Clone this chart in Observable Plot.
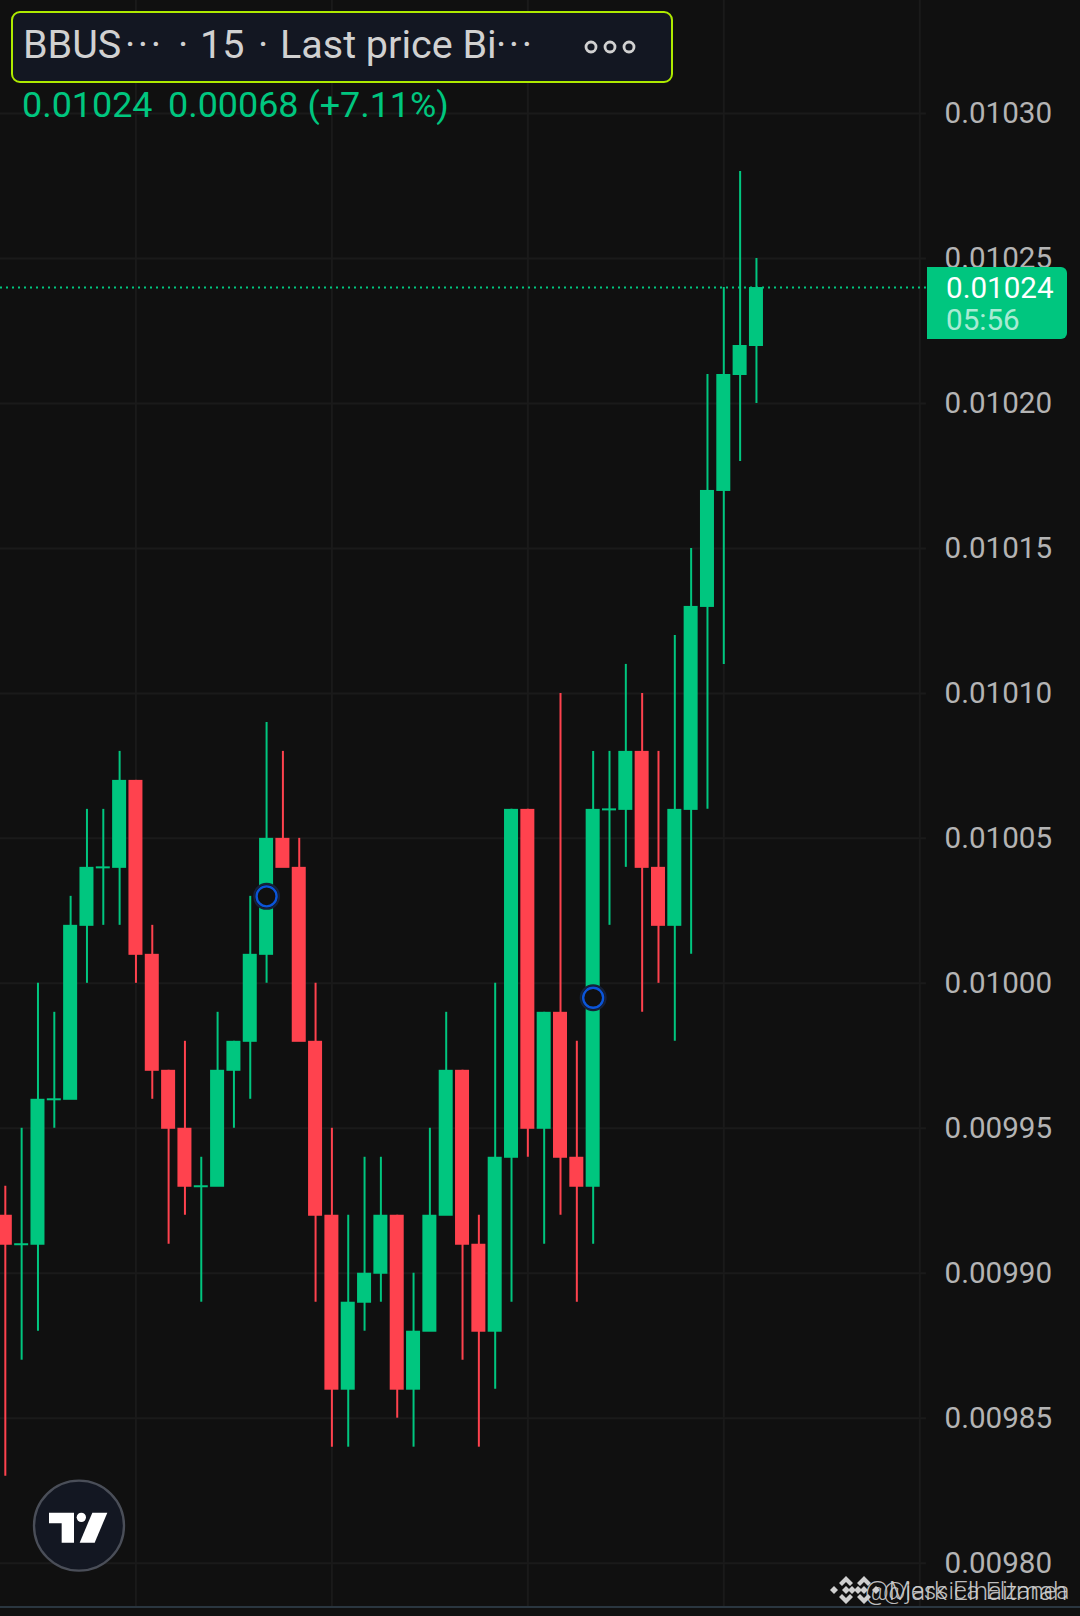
<!DOCTYPE html>
<html>
<head>
<meta charset="utf-8">
<script src="https://cdn.jsdelivr.net/npm/d3@7"></script>
<script src="https://cdn.jsdelivr.net/npm/@observablehq/plot@0.6"></script>
<style>
html,body{margin:0;padding:0;background:#101010;}
#page{position:relative;width:1080px;height:1616px;overflow:hidden;background:#101010;font-family:Roboto,sans-serif;}
#chart svg{display:block;}
.t{position:absolute;white-space:pre;line-height:40px;height:40px;}
.h{font-size:39.5px;color:#d1d1d1;top:25px;}
.d{letter-spacing:2.5px;}
.v{font-size:35.9px;color:#00c67f;top:85px;}
.wm{color:#cfcfcf;opacity:.9;top:1571px;font-weight:300;}
</style>
</head>
<body>
<div id="page">
  <div id="chart"></div>
  <div style="position:absolute;left:0;top:1606px;width:1080px;height:2px;background:#2a3640"></div>

  <div style="position:absolute;left:11px;top:11px;width:658px;height:68px;border:2px solid #aeea00;border-radius:9px;background:#131722"></div>
  <div class="t h" style="left:23px">BBUS</div>
  <div class="t h d" style="left:125px">···</div>
  <div class="t h" style="left:178px">·</div>
  <div class="t h" style="left:200px">15</div>
  <div class="t h" style="left:258px">·</div>
  <div class="t h" style="left:280px">Last price Bi</div>
  <div class="t h d" style="left:496px">···</div>
  <svg style="position:absolute;left:580px;top:35px" width="60" height="24">
    <g fill="none" stroke="#d1d1d1" stroke-width="2.8"><circle cx="11" cy="12" r="5"/><circle cx="30" cy="12" r="5"/><circle cx="49" cy="12" r="5"/></g>
  </svg>
  <div class="t v" style="left:22px">0.01024</div>
  <div class="t v" style="left:168px">0.00068 (+7.11%)</div>

  <div style="position:absolute;left:927px;top:267px;width:140px;height:72px;background:#00c67f;border-radius:0 6px 6px 0"></div>
  <div class="t" style="left:946px;top:268px;font-size:29.6px;color:#fff">0.01024</div>
  <div class="t" style="left:946px;top:300px;font-size:29.6px;color:rgba(255,255,255,.68)">05:56</div>

  <svg style="position:absolute;left:23.5px;top:1475px" width="110" height="100" viewBox="0 0 330 300">
    <circle cx="165" cy="152" r="135" fill="#131722" stroke="#4a4e58" stroke-width="7"/>
    <path fill="#fff" d="M75 113H150V203H113V145H75Z"/>
    <circle fill="#fff" cx="172" cy="127" r="14"/>
    <path fill="#fff" d="M205 113H250L212 203H167Z"/>
  </svg>

  <svg style="position:absolute;left:829px;top:1575px" width="60" height="30" viewBox="0 0 60 30">
    <g fill="#cfcfcf">
      <path d="M17 1l7 7-3 3-4-4-4 4-3-3z M17 29l7-7-3-3-4 4-4-4-3 3z M5 11l4 4-4 4-4-4z M29 11l4 4-4 4-4-4z M17 11l4 4-4 4-4-4z"/>
      <g transform="translate(18 0)"><path d="M17 1l7 7-3 3-4-4-4 4-3-3z M17 29l7-7-3-3-4 4-4-4-3 3z M5 11l4 4-4 4-4-4z M29 11l4 4-4 4-4-4z M17 11l4 4-4 4-4-4z"/></g>
    </g>
  </svg>
  <div class="t wm" style="left:865px;font-size:26px">@Mark Elhaitmah</div>
  <div class="t wm" style="left:883px;font-size:24.5px">@jessica Elzanea</div>
</div>
<script>
// Prices per candle, left to right
const opens  = [0.00992,0.00991,0.00991,0.00996,0.00996,0.01002,0.01004,0.01004,0.01007,0.01001,0.00997,0.00995,0.00993,0.00993,0.00997,0.00998,0.01001,0.01005,0.01004,0.00998,0.00992,0.00986,0.00989,0.00990,0.00992,0.00986,0.00988,0.00992,0.00997,0.00991,0.00988,0.00994,0.01006,0.00995,0.00999,0.00994,0.00993,0.01006,0.01006,0.01008,0.01004,0.01002,0.01006,0.01013,0.01017,0.01021,0.01022];
const closes = [0.00991,0.00991,0.00996,0.00996,0.01002,0.01004,0.01004,0.01007,0.01001,0.00997,0.00995,0.00993,0.00993,0.00997,0.00998,0.01001,0.01005,0.01004,0.00998,0.00992,0.00986,0.00989,0.00990,0.00992,0.00986,0.00988,0.00992,0.00997,0.00991,0.00988,0.00994,0.01006,0.00995,0.00999,0.00994,0.00993,0.01006,0.01006,0.01008,0.01004,0.01002,0.01006,0.01013,0.01017,0.01021,0.01022,0.01024];
const highs  = [0.00993,0.00995,0.01000,0.00999,0.01003,0.01006,0.01006,0.01008,0.01007,0.01002,0.00997,0.00998,0.00994,0.00999,0.00998,0.01003,0.01009,0.01008,0.01005,0.01000,0.00995,0.00992,0.00994,0.00994,0.00992,0.00990,0.00995,0.00999,0.00997,0.00992,0.01000,0.01006,0.01006,0.00999,0.01010,0.00998,0.01008,0.01008,0.01011,0.01010,0.01008,0.01012,0.01015,0.01021,0.01024,0.01028,0.01025];
const lows   = [0.00983,0.00987,0.00988,0.00995,0.00996,0.01000,0.01002,0.01002,0.01000,0.00996,0.00991,0.00992,0.00989,0.00993,0.00995,0.00996,0.01000,0.01004,0.00998,0.00989,0.00984,0.00984,0.00988,0.00989,0.00985,0.00984,0.00988,0.00992,0.00987,0.00984,0.00986,0.00989,0.00994,0.00991,0.00992,0.00989,0.00991,0.01002,0.01004,0.00999,0.01000,0.00998,0.01001,0.01006,0.01011,0.01018,0.01020];
const priceTicks = [0.0098,0.00985,0.0099,0.00995,0.01,0.01005,0.0101,0.01015,0.0102,0.01025,0.0103];
const timeGridAt = [8,20,32,44,56];
const markerIndex = [16,36];
const markerPrice = [0.01003,0.009995];
const lastPrice = [0.01024];

const green = "#00c67f", red = "#ff424e", bg = "#101010", gridColor = "#1a1a1a";
const candles = opens.map((o,i)=>({i,o,c:closes[i],h:highs[i],l:lows[i]}));
const bodies = candles.filter(d=>d.o!==d.c);
const dojis = candles.filter(d=>d.o===d.c);
const markers = markerIndex.map((i,k)=>({i,p:markerPrice[k]}));
const col = d => d.c>=d.o ? green : red;
const half = 0.4287;
const xLeft = -0.295, xGridEnd = 56.41;

const plot = Plot.plot({
  width:1080, height:1616,
  marginTop:0, marginBottom:0, marginLeft:0, marginRight:135,
  style:{background:"transparent", fontFamily:"Roboto, sans-serif", overflow:"visible"},
  x:{type:"linear", domain:[xLeft,57.577], range:[0,945], axis:null},
  y:{type:"linear", domain:[0.0097816,0.010339], range:[1616,0], axis:null},
  marks:[
    Plot.ruleX(timeGridAt,{x:d=>d, y1:0.009785, y2:0.010339, stroke:gridColor, strokeWidth:2}),
    Plot.ruleY(priceTicks,{y:d=>d, x1:xLeft, x2:xGridEnd, stroke:gridColor, strokeWidth:2}),
    Plot.axisY(priceTicks,{anchor:"right", tickSize:0, tickPadding:-1, dy:0.2, tickFormat:d=>d.toFixed(5), fontSize:29.6, color:"#b4b4b4", fill:"#b4b4b4", label:null}),
    Plot.ruleX(candles,{x:"i", y1:"l", y2:"h", stroke:col, strokeWidth:2}),
    Plot.rect(bodies,{x1:d=>d.i-half, x2:d=>d.i+half, y1:"o", y2:"c", fill:col, insetBottom:-1}),
    Plot.ruleY(dojis,{y:"o", x1:d=>d.i-half, x2:d=>d.i+half, stroke:col, strokeWidth:2}),
    Plot.dot(markers,{x:"i", y:"p", r:12.5, fill:bg, stroke:"#16213a", strokeWidth:2}),
    Plot.dot(markers,{x:"i", y:"p", r:10, fill:bg, stroke:"#0b55d9", strokeWidth:2.4}),
    Plot.ruleY(lastPrice,{y:d=>d, x1:xLeft, x2:xGridEnd, stroke:green, strokeWidth:2, strokeDasharray:"2,4"})
  ]
});
document.getElementById("chart").appendChild(plot);
</script>
</body>
</html>
